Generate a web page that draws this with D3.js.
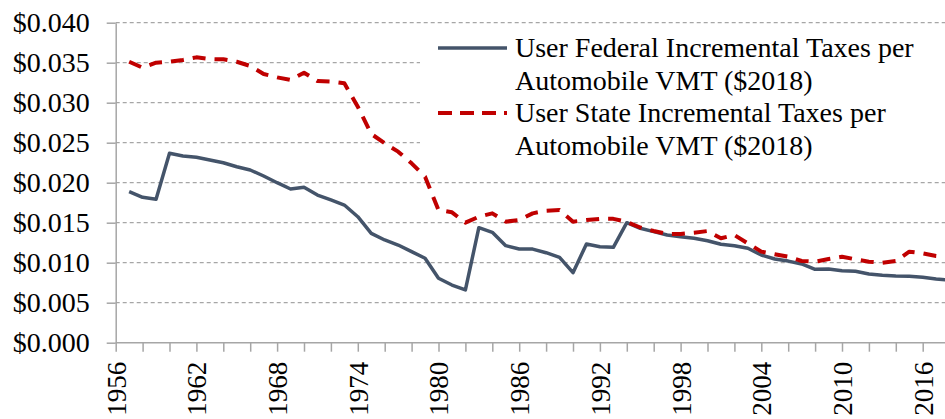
<!DOCTYPE html>
<html>
<head>
    <meta charset="UTF-8">
    <title>User Incremental Taxes per Automobile VMT</title>
    <script src="https://cdnjs.cloudflare.com/ajax/libs/d3/7.8.5/d3.min.js"></script>
    <style>
        body { margin: 0; background: #fff; }
    </style>
</head>
<body>
<svg id="chart" width="945" height="419" font-family="Liberation Serif"></svg>
<script>
    // years of data
    const years = d3.range(1957, 2019);

    // User Federal Incremental Taxes per Automobile VMT ($2018)
    const federal = [
        0.01888, 0.01817, 0.01792, 0.02367, 0.02334, 0.02317, 0.02284, 0.02250, 0.02200, 0.02159,
        0.02084, 0.02000, 0.01921, 0.01942, 0.01846, 0.01784, 0.01721, 0.01575, 0.01367, 0.01284,
        0.01221, 0.01138, 0.01055, 0.00805, 0.00721, 0.00659, 0.01438, 0.01380, 0.01213, 0.01171,
        0.01170, 0.01125, 0.01067, 0.00875, 0.01234, 0.01200, 0.01192, 0.01500, 0.01430, 0.01388,
        0.01346, 0.01325, 0.01305, 0.01275, 0.01230, 0.01213, 0.01180, 0.01096, 0.01046, 0.01020,
        0.00984, 0.00917, 0.00920, 0.00900, 0.00892, 0.00859, 0.00842, 0.00834, 0.00830, 0.00817,
        0.00796, 0.00780
    ];

    // User State Incremental Taxes per Automobile VMT ($2018)
    const state = [
        0.03512, 0.03438, 0.03500, 0.03512, 0.03534, 0.03567, 0.03546, 0.03542, 0.03512, 0.03459,
        0.03359, 0.03317, 0.03284, 0.03375, 0.03271, 0.03263, 0.03242, 0.02950, 0.02610, 0.02492,
        0.02388, 0.02242, 0.02075, 0.01659, 0.01630, 0.01500, 0.01575, 0.01617, 0.01513, 0.01534,
        0.01617, 0.01650, 0.01659, 0.01513, 0.01534, 0.01548, 0.01548, 0.01510, 0.01440, 0.01396,
        0.01359, 0.01359, 0.01375, 0.01396, 0.01305, 0.01346, 0.01242, 0.01138, 0.01105, 0.01075,
        0.01021, 0.01013, 0.01046, 0.01075, 0.01042, 0.01013, 0.01000, 0.01021, 0.01138, 0.01117,
        0.01084, 0.01070
    ];

    const yTicks = [0, 0.005, 0.010, 0.015, 0.020, 0.025, 0.030, 0.035, 0.040];
    const xTicks = d3.range(1956, 2019, 2);
    const xLabels = d3.range(1956, 2017, 6);

    const legendLabels = [
        ["User Federal Incremental Taxes per", "Automobile VMT ($2018)"],
        ["User State Incremental Taxes per", "Automobile VMT ($2018)"]
    ];

    const FONT = "Liberation Serif";
    const GREY = "#a6a6a6";

    const svg = d3.select("#chart");
    const plotLeft = 115.7, plotBottom = 342.7, plotTop = 22.7;

    const x = d3.scaleLinear().domain([1956, 2018]).range([plotLeft, plotLeft + 62 * 13.45]);
    const y = d3.scaleLinear().domain([0, 0.04]).range([plotBottom, plotTop]);

    // gridlines
    svg.append("g")
        .selectAll("line")
        .data(yTicks.slice(1))
        .enter().append("line")
        .attr("x1", plotLeft)
        .attr("x2", 945)
        .attr("y1", d => y(d))
        .attr("y2", d => y(d))
        .attr("stroke", GREY)
        .attr("stroke-width", 1.2)
        .attr("stroke-dasharray", "4,3");

    function styleAxis(g, size) {
        g.attr("font-family", FONT).attr("font-size", size);
        g.selectAll("path, line").attr("stroke", GREY).attr("stroke-width", 1.5);
        g.selectAll("text").attr("fill", "#000");
    }

    // y axis
    const yAxis = svg.append("g")
        .attr("transform", `translate(${plotLeft},0)`)
        .call(d3.axisLeft(y).tickValues(yTicks).tickSize(9).tickSizeOuter(0)
            .tickFormat(d => "$" + d3.format(".3f")(d)));
    styleAxis(yAxis, 28);
    yAxis.selectAll("text").attr("x", -26);

    // x axis
    const xAxis = svg.append("g")
        .attr("transform", `translate(0,${plotBottom})`)
        .call(d3.axisBottom(x).tickValues(xTicks).tickSize(9).tickSizeOuter(0)
            .tickFormat(d => xLabels.includes(d) ? d : ""));
    styleAxis(xAxis, 27);
    xAxis.select(".domain").attr("d", `M${plotLeft},0H945`);
    xAxis.selectAll("text")
        .attr("transform", "rotate(-90)")
        .attr("text-anchor", "end")
        .attr("x", -19)
        .attr("y", 0)
        .attr("dy", "0.35em");

    // legend background (hides grid behind it)
    svg.append("rect")
        .attr("x", 420).attr("y", 27)
        .attr("width", 525).attr("height", 140)
        .attr("fill", "#fff");

    const lineGen = d3.line()
        .x((d, i) => x(years[i]))
        .y(d => y(d));

    svg.append("path")
        .datum(federal)
        .attr("fill", "none")
        .attr("stroke", "#44546a")
        .attr("stroke-width", 3.5)
        .attr("stroke-linejoin", "round")
        .attr("d", lineGen);

    svg.append("path")
        .datum(state)
        .attr("fill", "none")
        .attr("stroke", "#c00000")
        .attr("stroke-width", 4)
        .attr("stroke-dasharray", "13,9")
        .attr("stroke-linejoin", "round")
        .attr("d", lineGen);

    // legend
    const legend = svg.append("g")
        .attr("font-family", FONT)
        .attr("font-size", 28);
    const styles = [
        { color: "#44546a", dash: null, width: 3.5 },
        { color: "#c00000", dash: "14,8", width: 4 }
    ];
    legendLabels.forEach((lines, i) => {
        const cy = 48 + i * 65;
        legend.append("line")
            .attr("x1", 438).attr("x2", 507)
            .attr("y1", cy).attr("y2", cy)
            .attr("stroke", styles[i].color)
            .attr("stroke-width", styles[i].width)
            .attr("stroke-dasharray", styles[i].dash);
        lines.forEach((t, j) => {
            legend.append("text")
                .attr("x", 515)
                .attr("y", cy + j * 33)
                .attr("dy", "0.33em")
                .attr("fill", "#000")
                .text(t);
        });
    });
</script>
</body>
</html>
